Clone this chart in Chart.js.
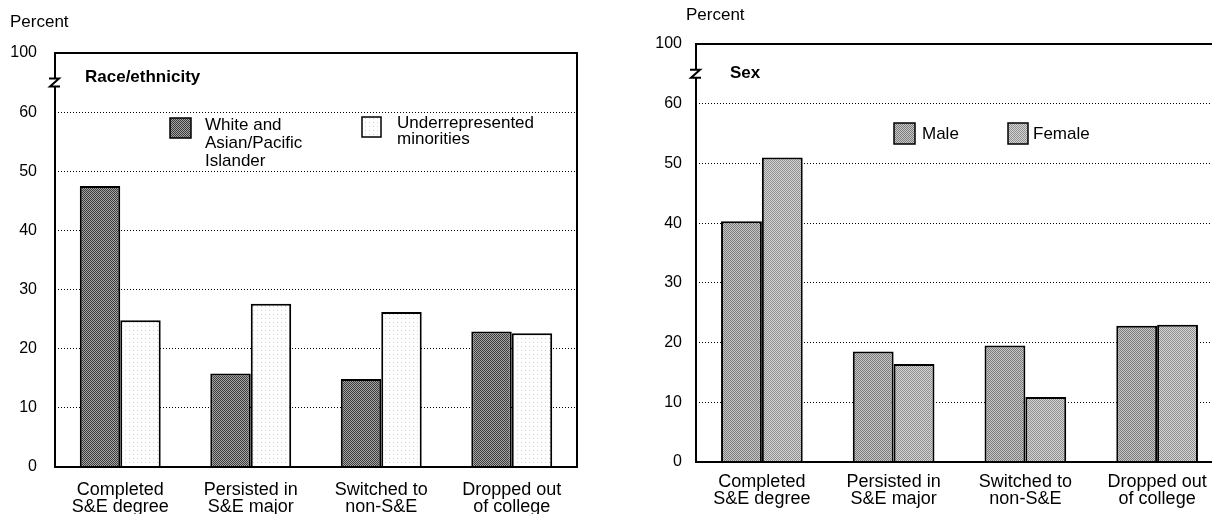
<!DOCTYPE html>
<html lang="en">
<head>
  <meta charset="UTF-8">
  <title>S&amp;E outcomes by race/ethnicity and sex</title>
  <script src="https://cdn.jsdelivr.net/npm/chart.js"></script>
  <style>
    body { margin: 0; background: #fff; overflow: hidden; width: 1212px; height: 514px; position: relative; }
    .panel { position: absolute; top: 0; height: 514px; }
    #left { left: 0; width: 600px; }
    #right { left: 620px; width: 640px; }
  </style>
</head>
<body>
<div class="panel" id="left"><canvas id="raceChart"></canvas></div>
<div class="panel" id="right"><canvas id="sexChart"></canvas></div>

<script>
  // categories and values
  const categories = [
    ['Completed', 'S&E degree'],
    ['Persisted in', 'S&E major'],
    ['Switched to', 'non-S&E'],
    ['Dropped out', 'of college']
  ];
  const whiteAsian = [47.5, 15.8, 14.9, 22.9];
  const underrep = [24.8, 27.6, 26.2, 22.6];
  const male = [40.3, 18.5, 19.5, 22.8];
  const female = [51.0, 16.4, 10.9, 23.0];

  // broken axis: the top tick sits at 70 but reads 100
  const tickValues = [0, 10, 20, 30, 40, 50, 60, 70];
  const tickLabels = ['0', '10', '20', '30', '40', '50', '60', '100'];
  const breakAt = 65;

  const FONT = "'Liberation Sans', Arial, sans-serif";

  function halftone(a, b, dots) {
    const c = document.createElement('canvas');
    c.width = 4; c.height = 4;
    const g = c.getContext('2d');
    g.fillStyle = a;
    g.fillRect(0, 0, 4, 4);
    g.fillStyle = b;
    dots.forEach(([x, y]) => g.fillRect(x, y, 1, 1));
    return g.createPattern(c, 'repeat');
  }
  const checker = [[0,0],[2,0],[1,1],[3,1],[0,2],[2,2],[1,3],[3,3]];
  const darkFill = halftone('#a4a4a4', '#3c3c3c', checker);
  const whiteFill = halftone('#ffffff', '#d2d2d2', [[1, 2]]);
  const maleFill = halftone('#c6c6c6', '#7c7c7c', checker);
  const femaleFill = halftone('#d4d4d4', '#909090', checker);

  // frame, break mark, titles and legend boxes
  const decorations = {
    id: 'decorations',
    afterDatasetsDraw(chart, args, opts) {
      const { ctx, chartArea: a, scales } = chart;
      ctx.save();
      ctx.strokeStyle = '#000';
      ctx.lineWidth = 2;
      ctx.strokeRect(a.left, a.top, a.right - a.left, a.bottom - a.top);

      // axis break
      const by = scales.y.getPixelForValue(breakAt);
      const bx = a.left;
      ctx.fillStyle = '#fff';
      ctx.fillRect(bx - 2, by - 4, 4, 8);
      ctx.beginPath();
      ctx.moveTo(bx - 6, by - 4);
      ctx.lineTo(bx + 4, by - 4);
      ctx.lineTo(bx - 5, by + 4);
      ctx.lineTo(bx + 5, by + 4);
      ctx.lineWidth = 2;
      ctx.stroke();

      ctx.fillStyle = '#000';
      ctx.textBaseline = 'middle';
      ctx.textAlign = 'left';
      ctx.font = '17px ' + FONT;
      ctx.fillText('Percent', opts.percent[0], opts.percent[1]);
      ctx.font = 'bold 17px ' + FONT;
      ctx.fillText(opts.title, opts.titlePos[0], opts.titlePos[1]);

      ctx.font = '17px ' + FONT;
      chart.data.datasets.forEach((ds, i) => {
        const L = opts.legend[i];
        ctx.fillStyle = ds.backgroundColor;
        ctx.fillRect(L.x, L.y, L.w, L.h);
        ctx.lineWidth = 1.5;
        ctx.strokeRect(L.x, L.y, L.w, L.h);
        ctx.fillStyle = '#000';
        ds.label.split('\n').forEach((line, k) => {
          ctx.fillText(line, L.tx, L.ty + k * L.pitch);
        });
      });
      ctx.restore();
    }
  };

  function makeChart(el, sets, opts) {
    return new Chart(document.getElementById(el), {
      type: 'bar',
      data: {
        labels: categories,
        datasets: sets.map(s => ({
          label: s.label,
          data: s.data,
          backgroundColor: s.fill,
          borderColor: '#000',
          borderWidth: 2,
          borderSkipped: 'bottom',
          categoryPercentage: 0.62,
          barPercentage: 1.0
        }))
      },
      options: {
        responsive: true,
        maintainAspectRatio: false,
        animation: false,
        layout: { padding: { left: 0, right: opts.padRight, top: opts.padTop, bottom: 0 } },
        plugins: {
          legend: { display: false },
          tooltip: { enabled: false },
          decorations: opts.deco
        },
        scales: {
          x: {
            grid: { display: false },
            border: { display: false },
            ticks: {
              color: '#000',
              padding: opts.xPad,
              font: { family: FONT, size: 18, lineHeight: 0.93 }
            },
            afterFit: s => { s.height = opts.xHeight; }
          },
          y: {
            min: 0,
            max: 70,
            afterBuildTicks: s => { s.ticks = tickValues.map(v => ({ value: v })); },
            grid: {
              drawTicks: false,
              color: c => (c.tick && (c.tick.value === 0 || c.tick.value === 70)) ? 'rgba(0,0,0,0)' : '#000',
              lineWidth: 1
            },
            border: { display: false, dash: [1, 2] },
            ticks: {
              color: '#000',
              padding: opts.yPad,
              font: { family: FONT, size: 16 },
              callback: (v) => tickLabels[tickValues.indexOf(v)]
            },
            afterFit: s => { s.width = opts.yWidth; }
          }
        }
      },
      plugins: [decorations]
    });
  }

  makeChart('raceChart', [
    { label: 'White and\nAsian/Pacific\nIslander', data: whiteAsian, fill: darkFill },
    { label: 'Underrepresented\nminorities', data: underrep, fill: whiteFill }
  ], {
    padRight: 23, padTop: 53, xHeight: 47, yWidth: 55, yPad: 18, xPad: 7,
    deco: {
      percent: [10, 22],
      title: 'Race/ethnicity',
      titlePos: [85, 77],
      legend: [
        { x: 170, y: 118, w: 21, h: 20, tx: 205, ty: 125, pitch: 18 },
        { x: 362, y: 117, w: 19, h: 20, tx: 397, ty: 123, pitch: 16 }
      ]
    }
  });

  makeChart('sexChart', [
    { label: 'Male', data: male, fill: maleFill },
    { label: 'Female', data: female, fill: femaleFill }
  ], {
    padRight: 37, padTop: 44, xHeight: 52, yWidth: 76, yPad: 14, xPad: 4,
    deco: {
      percent: [66, 15],
      title: 'Sex',
      titlePos: [110, 73],
      legend: [
        { x: 274, y: 123, w: 21, h: 21, tx: 302, ty: 134, pitch: 18 },
        { x: 388, y: 123, w: 20, h: 21, tx: 413, ty: 134, pitch: 18 }
      ]
    }
  });
</script>
</body>
</html>
